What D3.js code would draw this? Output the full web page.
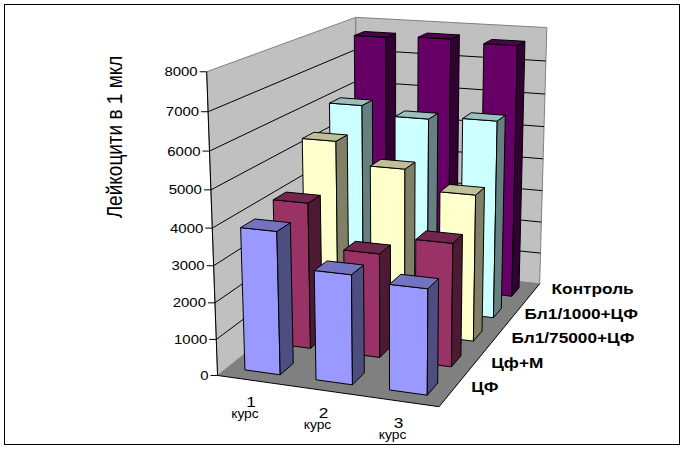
<!DOCTYPE html>
<html>
<head>
<meta charset="utf-8">
<script src="https://cdn.jsdelivr.net/npm/d3@7"></script>
<style>
  body { margin: 0; background: #fff; }
  text { font-family: "Liberation Sans", Arial, sans-serif; }
</style>
</head>
<body>
<div id="chart"></div>
<script>
// data
const categories = ['1', '2', '3'];
const categoryUnit = 'курс';
const series = ['ЦФ', 'Цф+М', 'Бл1/75000+ЦФ', 'Бл1/1000+ЦФ', 'Контроль'];
const valuesCF = [3900, 2970, 2830];
const valuesCFM = [4120, 2920, 3420];
const valuesBl75000 = [5370, 4750, 4200];
const valuesBl1000 = [5990, 5740, 5830];
const valuesControl = [7670, 7730, 7650];
const seriesColors = ['#9999ff', '#993366', '#ffffcc', '#ccffff', '#660066'];
const yTicks = [0, 1000, 2000, 3000, 4000, 5000, 6000, 7000, 8000];
const yTitle = 'Лейкоцити в 1 мкл';

const seriesValues = [valuesCF, valuesCFM, valuesBl75000, valuesBl1000, valuesControl];

const W = 685, H = 454;
const barWidth = 0.5, barDepth = 0.42;
const stretch = 1.15;   // text in the picture is a bit wider than tall
const labelRight = 638; // depth labels are pushed back inside the chart area

// where the plot box corners sit on screen: [unit box coords] -> [px]
const boxCorners = [
  [[0, 0, 0], [218, 376]],
  [[1, 0, 0], [438, 407]],
  [[1, 0, 1], [540, 283]],
  [[0, 1, 0], [207, 71]],
  [[0, 1, 1], [356, 17]],
  [[1, 1, 1], [547, 28]],
  [[0, 0.5, 0], [212.6, 228]],
  [[0, 0.875, 1], [355, 50]],
  [[1, 0.5, 1], [543.5, 159]]
];

// fit a perspective camera (3x4, last entry 1) to those corners
const cx = 340, cy = 220, cs = 300;
function fitCamera(pts) {
  const n = 11;
  const M = d3.range(n).map(() => d3.range(n + 1).map(() => 0));
  const add = (r, b) => {
    for (let i = 0; i < n; i++) {
      for (let j = 0; j < n; j++) M[i][j] += r[i] * r[j];
      M[i][n] += r[i] * b;
    }
  };
  pts.forEach(([[x, y, z], [u0, v0]]) => {
    const u = (u0 - cx) / cs, v = (v0 - cy) / cs;
    add([x, y, z, 1, 0, 0, 0, 0, -u * x, -u * y, -u * z], u);
    add([0, 0, 0, 0, x, y, z, 1, -v * x, -v * y, -v * z], v);
  });
  for (let c = 0; c < n; c++) {
    let p = c;
    for (let r = c + 1; r < n; r++) if (Math.abs(M[r][c]) > Math.abs(M[p][c])) p = r;
    [M[c], M[p]] = [M[p], M[c]];
    for (let r = 0; r < n; r++) {
      if (r === c) continue;
      const f = M[r][c] / M[c][c];
      for (let j = c; j <= n; j++) M[r][j] -= f * M[c][j];
    }
  }
  return M.map((r, i) => r[n] / r[i]);
}
const cam = fitCamera(boxCorners);
const proj = ([x, y, z]) => {
  const w = cam[8] * x + cam[9] * y + cam[10] * z + 1;
  return [
    cx + cs * (cam[0] * x + cam[1] * y + cam[2] * z + cam[3]) / w,
    cy + cs * (cam[4] * x + cam[5] * y + cam[6] * z + cam[7]) / w
  ];
};
const poly = pts => 'M' + pts.map(p => proj(p).join(',')).join('L') + 'Z';

const xBand = d3.scaleBand().domain(categories).range([0, 1])
  .paddingInner(1 - barWidth).paddingOuter((1 - barWidth) / 2);
const zBand = d3.scaleBand().domain(series).range([0, 1])
  .paddingInner(1 - barDepth).paddingOuter((1 - barDepth) / 2);
const y = d3.scaleLinear().domain([0, 8000]).range([0, 1]);

const svg = d3.select('#chart').append('svg')
  .attr('width', W)
  .attr('height', H);

svg.append('rect')
  .attr('x', 4.5).attr('y', 4.5)
  .attr('width', 675).attr('height', 440)
  .attr('fill', '#fff')
  .attr('stroke', '#000');

// walls and floor
svg.append('path')
  .attr('d', poly([[0, 0, 0], [0, 1, 0], [0, 1, 1], [0, 0, 1]]))
  .attr('fill', '#c0c0c0').attr('stroke', '#808080');
svg.append('path')
  .attr('d', poly([[0, 0, 1], [0, 1, 1], [1, 1, 1], [1, 0, 1]]))
  .attr('fill', '#c0c0c0').attr('stroke', '#808080');
svg.append('path')
  .attr('d', poly([[0, 0, 0], [1, 0, 0], [1, 0, 1], [0, 0, 1]]))
  .attr('fill', '#808080');
svg.append('path')
  .attr('d', 'M' + [[0, 0, 0], [1, 0, 0], [1, 0, 1]].map(p => proj(p).join(',')).join('L'))
  .attr('fill', 'none').attr('stroke', '#000');

// gridlines along side and back wall
const line = d3.line();
svg.append('g')
  .selectAll('path')
  .data(yTicks.filter(t => t > 0 && t < 8000))
  .join('path')
    .attr('d', t => line([[0, y(t), 0], [0, y(t), 1], [1, y(t), 1]].map(proj)))
    .attr('fill', 'none')
    .attr('stroke', '#000');

// value axis
svg.append('path')
  .attr('d', line([[0, 0, 0], [0, 1, 0]].map(proj)))
  .attr('stroke', '#000');
const ticks = svg.append('g')
  .selectAll('g')
  .data(yTicks)
  .join('g')
    .attr('transform', t => `translate(${proj([0, y(t), 0])})`);
ticks.append('line')
  .attr('x1', -7).attr('x2', 0)
  .attr('stroke', '#000');
ticks.append('text')
  .attr('transform', `translate(-9,4.5) scale(${stretch},1)`)
  .attr('text-anchor', 'end')
  .attr('font-size', 13)
  .text(t => t);

// bars, back row first
const shade = (c, k) => {
  const r = d3.rgb(c);
  return d3.rgb(r.r * k, r.g * k, r.b * k).formatHex();
};
const bars = [];
for (let j = series.length - 1; j >= 0; j--) {
  categories.forEach((c, i) => bars.push({cat: c, ser: series[j], j, v: seriesValues[j][i]}));
}
const barG = svg.append('g')
  .selectAll('g')
  .data(bars)
  .join('g');
barG.each(function (d) {
  const x0 = xBand(d.cat), x1 = x0 + xBand.bandwidth();
  const z0 = zBand(d.ser), z1 = z0 + zBand.bandwidth();
  const h = y(d.v);
  const faces = [
    {pts: [[x0, 0, z0], [x1, 0, z0], [x1, h, z0], [x0, h, z0]], k: 1},
    {pts: [[x1, 0, z0], [x1, 0, z1], [x1, h, z1], [x1, h, z0]], k: 0.5},
    {pts: [[x0, h, z0], [x1, h, z0], [x1, h, z1], [x0, h, z1]], k: 0.75}
  ];
  d3.select(this).selectAll('path')
    .data(faces)
    .join('path')
      .attr('d', f => poly(f.pts))
      .attr('fill', f => shade(seriesColors[d.j], f.k))
      .attr('stroke', '#000')
      .attr('stroke-linejoin', 'round');
});

// category labels: number with "курс" tucked under it
const catText = svg.append('g')
  .selectAll('text')
  .data(categories)
  .join('text')
    .attr('transform', c => `translate(${proj([xBand(c) + xBand.bandwidth() / 2, 0, 0])}) scale(${stretch},1)`)
    .attr('text-anchor', 'middle');
catText.append('tspan')
  .attr('x', -2 / stretch).attr('y', 27)
  .attr('font-size', 15)
  .text(c => c);
catText.append('tspan')
  .attr('x', -8 / stretch).attr('y', 38)
  .attr('font-size', 12)
  .text(categoryUnit);

// series labels along the depth edge of the floor (evenly spaced, like Excel)
const front = proj([1, 0, 0]), back = proj([1, 0, 1]);
svg.append('g')
  .selectAll('text')
  .data(series)
  .join('text')
    .attr('font-size', 15)
    .attr('font-weight', 'bold')
    .text(s => s)
    .each(function (s) {
      const t = zBand(s) + zBand.bandwidth() / 2;
      const ax = front[0] + (back[0] - front[0]) * t;
      const ay = front[1] + (back[1] - front[1]) * t;
      const w = this.getComputedTextLength() * stretch;
      const left = Math.min(ax + 22, labelRight - w);
      d3.select(this).attr('transform', `translate(${left},${ay - 2}) scale(${stretch},1)`);
    });

// value axis title
svg.append('text')
  .attr('transform', `translate(122,137) scale(${stretch},1) rotate(-90)`)
  .attr('text-anchor', 'middle')
  .attr('font-size', 19)
  .text(yTitle);
</script>
</body>
</html>
